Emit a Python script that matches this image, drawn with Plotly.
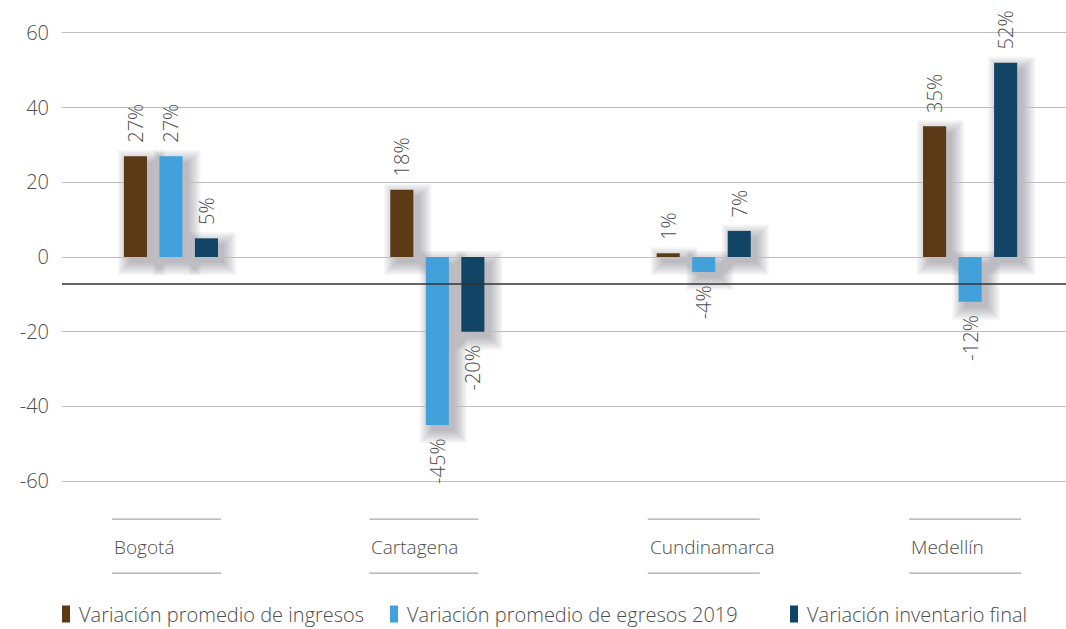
import plotly.graph_objects as go

# Regions and the three variations per region (percent)
regiones = ["Bogotá", "Cartagena", "Cundinamarca", "Medellín"]
ingresos = [27, 18, 1, 35]
egresos_2019 = [27, -45, -4, -12]
inventario_final = [5, -20, 7, 52]

series = [
    ("Variación promedio de ingresos", ingresos, "#5c3a17"),
    ("Variación promedio de egresos 2019", egresos_2019, "#42a0da"),
    ("Variación inventario final", inventario_final, "#124466"),
]

y_ticks = [60, 40, 20, 0, -20, -40, -60]
linea_referencia = -7.2

FONT = "Open Sans"
TXT = "#4d4d4d"

BARGAP, GROUPGAP = 0.6, 0.35
X_RANGE = [-0.409, 3.36]
Y_RANGE = [-66.4, 64.8]
MARGIN_L, MARGIN_T, MARGIN_B = 62, 15, 124
W, H = 1066, 629
PLOT_W, PLOT_H = W - MARGIN_L, H - MARGIN_T - MARGIN_B
px_x = (X_RANGE[1] - X_RANGE[0]) / PLOT_W
px_y = (Y_RANGE[1] - Y_RANGE[0]) / PLOT_H

PAD = "\u00a0\u00a0"


def etiqueta(v):
    # padding on the side that faces the bar
    return f"{PAD}{v}%" if v >= 0 else f"{v}%{PAD}"


fig = go.Figure()
for nombre, valores, color in series:
    fig.add_trace(go.Bar(
        name=nombre,
        x=list(range(len(regiones))),
        y=valores,
        marker=dict(color=color, line=dict(width=0)),
        text=[etiqueta(v) for v in valores],
        textposition="outside",
        textangle=-90,
        constraintext="none",
        cliponaxis=False,
        showlegend=False,
        textfont=dict(family=FONT, size=20, color=TXT, weight=300),
    ))

shapes = []
annotations = []

# Soft drop shadow under each bar, derived from the bar geometry
slot = (1 - BARGAP) / len(series)
half_w = slot * (1 - GROUPGAP) / 2
for k, (_, valores, _) in enumerate(series):
    for i, v in enumerate(valores):
        cx = i + (k - (len(series) - 1) / 2) * slot
        lo, hi = min(0, v), max(0, v)
        dx, dy = 6 * px_x, 6 * px_y
        for spread in (12, 10, 8, 6, 4, 2, 0):
            shapes.append(dict(type="rect", xref="x", yref="y", layer="below",
                               x0=cx - half_w + dx - spread * px_x,
                               x1=cx + half_w + dx + spread * px_x,
                               y0=lo - dy - spread * px_y,
                               y1=hi - dy + spread * px_y,
                               fillcolor="rgb(40,40,50)", opacity=0.05,
                               line=dict(width=0)))

# Horizontal reference line across the plot
shapes.append(dict(type="line", xref="paper", yref="y", x0=0, x1=1,
                   y0=linea_referencia, y1=linea_referencia,
                   line=dict(color="#333333", width=1.5)))

# Category labels framed by a rule above and below (rule extents in px from centre)
regla_px = [(-59, 50), (-68, 41), (-56, 56), (-61, 51)]
for i, (reg, (a, b)) in enumerate(zip(regiones, regla_px)):
    for yy in (-0.029, -0.139):
        shapes.append(dict(type="line", xref="x", yref="paper",
                           x0=i + a * px_x, x1=i + b * px_x, y0=yy, y1=yy,
                           line=dict(color="#a8a8a8", width=1.2)))
    annotations.append(dict(x=i + a * px_x, y=-0.086, xref="x", yref="paper",
                            text=reg, showarrow=False, xanchor="left",
                            yanchor="middle",
                            font=dict(family=FONT, size=19, color=TXT, weight=300)))

# Legend: narrow colour swatch followed by the series name
legend_px = [62, 390, 790]
legend_y_px = 614
for (nombre, _, color), x_px in zip(series, legend_px):
    xp0 = (x_px - MARGIN_L) / PLOT_W
    xp1 = (x_px + 8 - MARGIN_L) / PLOT_W
    yc = (H - MARGIN_B - legend_y_px) / PLOT_H
    hh = 8.5 / PLOT_H
    shapes.append(dict(type="rect", xref="paper", yref="paper",
                       x0=xp0, x1=xp1, y0=yc - hh, y1=yc + hh,
                       fillcolor=color, line=dict(width=0)))
    annotations.append(dict(x=(x_px + 16 - MARGIN_L) / PLOT_W, y=yc,
                            xref="paper", yref="paper", text=nombre,
                            showarrow=False, xanchor="left", yanchor="middle",
                            borderpad=0,
                            font=dict(family=FONT, size=20, color=TXT, weight=300)))

fig.update_layout(
    width=W, height=H,
    margin=dict(l=MARGIN_L, r=0, t=MARGIN_T, b=MARGIN_B),
    plot_bgcolor="white", paper_bgcolor="white",
    barmode="group", bargap=BARGAP, bargroupgap=GROUPGAP,
    showlegend=False,
    shapes=shapes,
    annotations=annotations,
    xaxis=dict(range=X_RANGE, showticklabels=False, showgrid=False,
               zeroline=False, showline=False, fixedrange=True),
    yaxis=dict(range=Y_RANGE, tickvals=y_ticks,
               ticktext=[str(v) for v in y_ticks],
               showgrid=True, gridcolor="#bdbdbd", gridwidth=1,
               zeroline=True, zerolinecolor="#bdbdbd", zerolinewidth=1,
               showline=False, ticks="", ticklabelstandoff=12,
               tickfont=dict(family=FONT, size=20, color=TXT, weight=300)),
)

fig.write_html("out.html")
